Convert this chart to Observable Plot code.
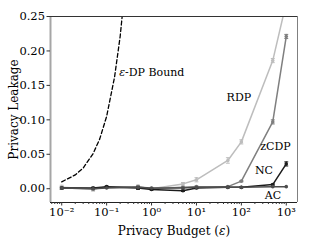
<!DOCTYPE html>
<html>
<head>
<meta charset="utf-8">
<script src="https://cdn.jsdelivr.net/npm/d3@7"></script>
<script src="https://cdn.jsdelivr.net/npm/@observablehq/plot@0.6"></script>
<style>
  html, body { margin: 0; padding: 0; background: #fff; }
  svg { display: block; }
  svg, svg text { font-family: "DejaVu Serif", "Liberation Serif", serif !important; }
</style>
</head>
<body>
<div id="chart"></div>
<script>
// ---- data ----
const budgets = [0.01, 0.05, 0.1, 0.5, 1, 5, 10, 50, 100, 500, 1000];
const rdp  = [0.002, -0.0005, 0.002, 0.002, 0.000, 0.007, 0.013, 0.041, 0.068, 0.186, 0.27];
const rdpErr  = [0.003, 0.003, 0.001, 0.002, 0.002, 0.002, 0.003, 0.004, 0.003, 0.003, 0.004];
const zcdp = [0.001, 0.000, 0.002, 0.003, 0.000, 0.002, 0.003, 0.003, 0.011, 0.097, 0.221];
const zcdpErr = [0.002, 0.002, 0.001, 0.002, 0.001, 0.001, 0.001, 0.001, 0.001, 0.003, 0.003];
const nc   = [0.001, 0.001, 0.003, 0.001, -0.001, -0.003, 0.001, 0.002, 0.002, 0.006, 0.036];
const ncErr   = [0.001, 0.001, 0.001, 0.002, 0.001, 0.001, 0.001, 0.001, 0.001, 0.001, 0.003];
const ac   = [0.001, 0.000, 0.001, 0.002, 0.001, 0.001, 0.002, 0.002, 0.002, 0.003, 0.003];
const boundEps  = [0.01, 0.02, 0.03, 0.05, 0.07, 0.1, 0.15, 0.2, 0.25];
const boundLeak = [0.010, 0.020, 0.030, 0.051, 0.072, 0.105, 0.162, 0.221, 0.284];
const yTicks = [0, 0.05, 0.10, 0.15, 0.20, 0.25];
const xTicks = [0.01, 0.1, 1, 10, 100, 1000];
const xTickLabels = ["10⁻²", "10⁻¹", "10⁰", "10¹", "10²", "10³"];
const seriesNames = ["RDP", "zCDP", "NC", "AC"];
const boundLabel = {name: "ε-DP Bound", x: 0.19, y: 0.169};
const seriesLabels = [
  {name: "RDP",  x: 88,  y: 0.1325},
  {name: "zCDP", x: 577, y: 0.0607},
  {name: "NC",   x: 319, y: 0.027},
  {name: "AC",   x: 507, y: -0.0105}
];
const FONT = "DejaVu Serif";

// ---- build tables ----
const styles = {
  RDP:  {color: "#bdbdbd", vals: rdp,  err: rdpErr},
  zCDP: {color: "#7f7f7f", vals: zcdp, err: zcdpErr},
  NC:   {color: "#1c1c1c", vals: nc,   err: ncErr},
  AC:   {color: "#4d4d4d", vals: ac,   err: null}
};
const rows = [];
for (const s of seriesNames) {
  budgets.forEach((b, i) => rows.push({
    series: s, x: b, y: styles[s].vals[i],
    e: styles[s].err ? styles[s].err[i] : 0
  }));
}
const bound = boundEps.map((e, i) => ({x: e, y: boundLeak[i]}));
const minor = [];
for (let p = -3; p <= 3; p++) for (let m = 2; m <= 9; m++) {
  const v = m * Math.pow(10, p);
  if (v > 0.0058 && v < 1770) minor.push(v);
}
const xDomain = [Math.pow(10, -2.25), Math.pow(10, 3.25)];
const yDomain = [-0.02, 0.25];
const capSymbol = {draw(ctx, size) { const r = Math.sqrt(size) / 2; ctx.moveTo(-r, 0); ctx.lineTo(r, 0); }};

const marks = [];
for (const s of seriesNames) {
  const d = rows.filter(r => r.series === s);
  const c = styles[s].color;
  if (styles[s].err) {
    const de = d.filter(r => r.e > 0);
    marks.push(Plot.ruleX(de, {x: "x", y1: r => r.y - r.e, y2: r => r.y + r.e, stroke: c, strokeWidth: 1, clip: true}));
    marks.push(Plot.dot(de, {x: "x", y: r => r.y - r.e, symbol: capSymbol, r: 2.2, stroke: c, strokeWidth: 1, clip: true}));
    marks.push(Plot.dot(de, {x: "x", y: r => r.y + r.e, symbol: capSymbol, r: 2.2, stroke: c, strokeWidth: 1, clip: true}));
  }
  marks.push(Plot.line(d, {x: "x", y: "y", stroke: c, strokeWidth: 1.5, clip: true}));
  marks.push(Plot.dot(d, {x: "x", y: "y", fill: c, r: 1.8, clip: true}));
}
marks.push(Plot.line(bound, {x: "x", y: "y", stroke: "#000", strokeWidth: 1.3, strokeDasharray: "4,2.5", clip: true}));
marks.push(Plot.text([boundLabel], {x: "x", y: "y", text: "name", textAnchor: "start", fontSize: 11, fontFamily: FONT, fill: "#000"}));
marks.push(Plot.text(seriesLabels, {x: "x", y: "y", text: "name", textAnchor: "middle", fontSize: 11, fontFamily: FONT, fill: "#000"}));

// spines
marks.push(Plot.ruleX([xDomain[0]], {stroke: "#a6a6a6", strokeWidth: 2}));
marks.push(Plot.ruleX([xDomain[1]], {stroke: "#808080", strokeWidth: 1}));
marks.push(Plot.ruleY([yDomain[1]], {stroke: "#333", strokeWidth: 1}));
marks.push(Plot.ruleY([yDomain[0]], {stroke: "#222", strokeWidth: 1}));

// axes
marks.push(Plot.axisX(minor, {tickSize: 2, tickFormat: () => "", stroke: "#333", label: null}));
marks.push(Plot.axisX(xTicks, {tickSize: 3.5, tickPadding: 2, tickFormat: d => xTickLabels[xTicks.indexOf(d)], fontSize: 11.5, fontFamily: FONT, fill: "#000", stroke: "#333",
  label: null}));
marks.push(Plot.axisY(yTicks, {tickSize: 3.5, tickPadding: 2, tickFormat: d => d.toFixed(2), fontSize: 11.5, fontFamily: FONT, fill: "#000", stroke: "#333",
  label: null}));
marks.push(Plot.axisX({ticks: [], tickSize: 0, label: "Privacy Budget (ε)", labelArrow: "none", labelAnchor: "center", labelOffset: 32, fontSize: 12, fontFamily: FONT, fill: "#000"}));
marks.push(Plot.axisY({ticks: [], tickSize: 0, label: "Privacy Leakage", labelArrow: "none", labelAnchor: "center", labelOffset: 41, fontSize: 12, fontFamily: FONT, fill: "#000"}));

const chart = Plot.plot({
  width: 310, height: 246,
  marginLeft: 50, marginRight: 13, marginTop: 16, marginBottom: 44,
  style: {fontFamily: FONT, fontSize: "11px", background: "#fff", color: "#000"},
  x: {type: "log", domain: xDomain},
  y: {domain: yDomain},
  marks
});

// strip any arrows, italicize epsilon
chart.querySelectorAll("text, tspan").forEach(el => {
  if (el.children.length) return;
  let t = el.textContent.replace(/\s*[→↑←↓]\s*/g, "");
  if (t !== el.textContent) el.textContent = t;
  if (!t.includes("ε")) return;
  el.textContent = "";
  t.split(/(ε)/).forEach(part => {
    if (!part) return;
    if (part === "ε") {
      const ts = document.createElementNS("http://www.w3.org/2000/svg", "tspan");
      ts.setAttribute("font-style", "italic");
      ts.textContent = part;
      el.appendChild(ts);
    } else {
      el.appendChild(document.createTextNode(part));
    }
  });
});
chart.querySelectorAll("text").forEach(el => {
  if (!el.textContent.trim()) el.remove();
});
document.getElementById("chart").appendChild(chart);
</script>
</body>
</html>
